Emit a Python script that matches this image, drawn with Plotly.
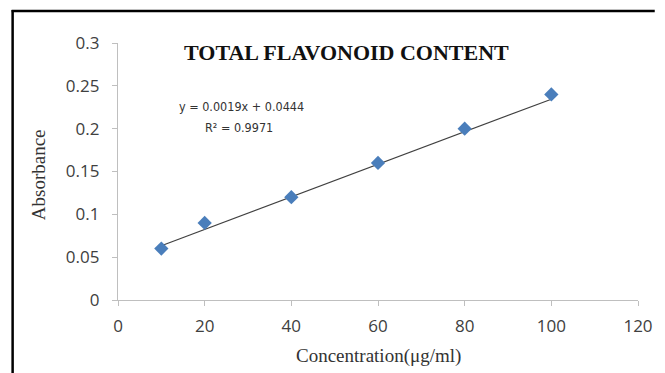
import plotly.graph_objects as go

concentration = [10, 20, 40, 60, 80, 100]
absorbance = [0.06, 0.09, 0.12, 0.16, 0.20, 0.24]
slope = 0.0019
intercept = 0.0444
r_squared = 0.9971
x_ticks = [0, 20, 40, 60, 80, 100, 120]
y_ticks = [0, 0.05, 0.1, 0.15, 0.2, 0.25, 0.3]
y_tick_text = ["0", "0.05", "0.1", "0.15", "0.2", "0.25", "0.3"]

OFF = 8  # default page body margin
W, H = 665 - OFF, 373 - OFF
L, R, T, B = 110, 19, 35, 73
pw, ph = W - L - R, H - T - B

trend_x = [concentration[0], concentration[-1]]
trend_y = [slope * x + intercept for x in trend_x]

fig = go.Figure()
fig.add_trace(go.Scatter(x=trend_x, y=trend_y, mode="lines",
                         line=dict(color="#404040", width=1.2), hoverinfo="skip"))
fig.add_trace(go.Scatter(x=concentration, y=absorbance, mode="markers",
                         marker=dict(symbol="diamond", size=11, color="#4a7ebb",
                                     line=dict(width=0))))


def px_x(p):
    return (p - OFF - L) / pw


def px_y(p):
    return 1 - (p - OFF - T) / ph


tick_font = dict(family="Open Sans, Liberation Sans", size=17, color="#404040")
serif = "Liberation Serif, Times New Roman, serif"
narrow = "DejaVu Sans Condensed, Liberation Sans Narrow, Arial Narrow, Liberation Sans"

fig.update_layout(
    width=W, height=H,
    margin=dict(l=L, r=R, t=T, b=B),
    paper_bgcolor="white", plot_bgcolor="white",
    showlegend=False,
    xaxis=dict(range=[0, 120], tickvals=x_ticks, showgrid=False, zeroline=False,
               showline=True, linecolor="#bfbfbf", linewidth=1.2,
               ticks="outside", ticklen=5, tickcolor="#bfbfbf",
               ticklabelstandoff=5, tickfont=tick_font),
    yaxis=dict(range=[0, 0.3], tickvals=y_ticks, ticktext=y_tick_text, showgrid=False,
               zeroline=False, showline=True, linecolor="#bfbfbf", linewidth=1.2,
               ticks="outside", ticklen=5, tickcolor="#bfbfbf",
               ticklabelstandoff=9, tickfont=tick_font),
    annotations=[
        dict(text="<b>TOTAL FLAVONOID CONTENT</b>", xref="paper", yref="paper",
             x=px_x(350), y=px_y(53), xanchor="center", yanchor="middle", showarrow=False,
             font=dict(family=serif, size=22, color="#111111")),
        dict(text="y = 0.0019x + 0.0444", xref="paper", yref="paper",
             x=px_x(243), y=px_y(106), xanchor="center", yanchor="middle", showarrow=False,
             font=dict(family=narrow, size=12.5, color="#333333")),
        dict(text=f"R² = {r_squared}", xref="paper", yref="paper",
             x=px_x(241), y=px_y(128), xanchor="center", yanchor="middle", showarrow=False,
             font=dict(family=narrow, size=12.5, color="#333333")),
        dict(text="Concentration(μg/ml)", xref="paper", yref="paper",
             x=px_x(383), y=px_y(356), xanchor="center", yanchor="middle", showarrow=False,
             font=dict(family=serif, size=19, color="#333333")),
        dict(text="Absorbance", xref="paper", yref="paper", textangle=-90,
             x=px_x(37), y=px_y(175), xanchor="center", yanchor="middle", showarrow=False,
             font=dict(family=serif, size=19, color="#333333")),
    ],
    shapes=[
        dict(type="line", xref="paper", yref="paper", x0=px_x(10), x1=px_x(663),
             y0=px_y(11), y1=px_y(11), line=dict(color="black", width=2.5)),
        dict(type="line", xref="paper", yref="paper", x0=px_x(11), x1=px_x(11),
             y0=px_y(10), y1=px_y(373), line=dict(color="black", width=2.5)),
    ],
)

fig.write_html("out.html")
